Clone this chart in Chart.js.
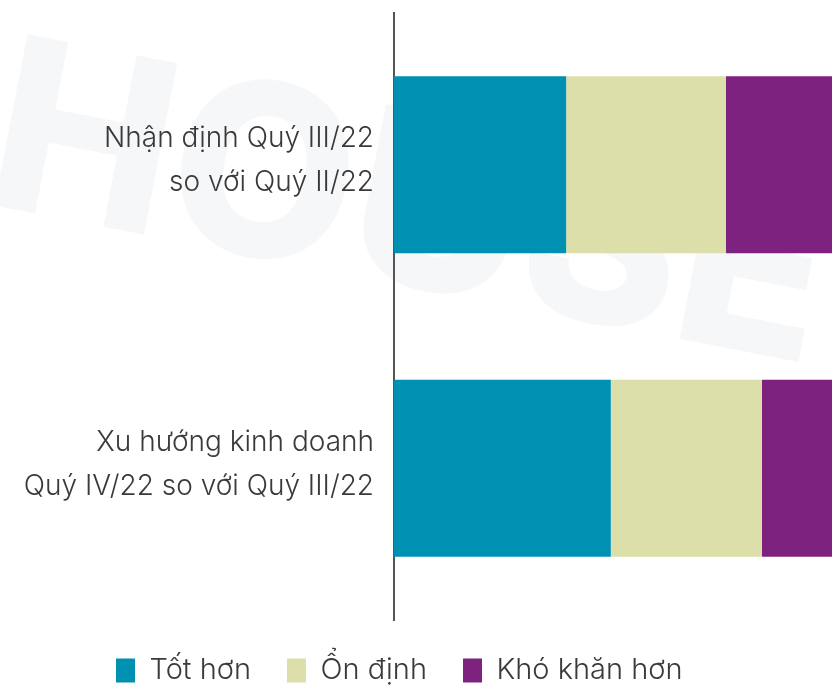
<!DOCTYPE html>
<html>
<head>
<meta charset="utf-8">
<script src="https://cdn.jsdelivr.net/npm/chart.js@4.4.0/dist/chart.umd.min.js"></script>
<style>
  html, body { margin: 0; padding: 0; background: #fff; }
  #wrap { width: 832px; height: 687px; position: relative; }
</style>
</head>
<body>
<div id="wrap"><canvas id="chart"></canvas></div>
<script>
// ===== Data =====
const categories = [
    ['Nhận định Quý III/22', 'so với Quý II/22'],
    ['Xu hướng kinh doanh', 'Quý IV/22 so với Quý III/22']
];
const seriesNames = ['Tốt hơn', 'Ổn định', 'Khó khăn hơn'];
const totHon = [39.3, 49.5];
const onDinh = [36.5, 34.5];
const khoKhanHon = [24.2, 16.0];
const seriesColors = ['#0090b2', '#dcdfa9', '#7e2280'];

// faint watermark behind the plot
const watermark = {
    id: 'watermark',
    beforeDraw(chart) {
        const c = chart.ctx;
        c.save();
        c.translate(-19, 203);
        c.rotate(11 * Math.PI / 180);
        c.font = '800 240px Inter';
        c.textAlign = 'left';
        c.textBaseline = 'alphabetic';
        c.fillStyle = '#f6f7f9';
        c.fillText('HOUSE', 0, 0);
        c.restore();
    }
};

// nudge the legend to where it sits in the picture
const legendShift = {
    id: 'legendShift',
    afterLayout(chart) {
        const lg = chart.legend;
        lg.left += 80; lg.right += 80;
    }
};

const ctx = document.getElementById('chart').getContext('2d');
const chart = new Chart(ctx, {
    type: 'bar',
    data: {
        labels: categories,
        datasets: [
            { label: seriesNames[0], data: totHon, backgroundColor: seriesColors[0] },
            { label: seriesNames[1], data: onDinh, backgroundColor: seriesColors[1] },
            { label: seriesNames[2], data: khoKhanHon, backgroundColor: seriesColors[2] }
        ]
    },
    options: {
        indexAxis: 'y',
        responsive: true,
        maintainAspectRatio: false,
        animation: false,
        datasets: { bar: { categoryPercentage: 1, barPercentage: 0.584, borderWidth: 0 } },
        layout: { padding: { top: 13, right: 0, bottom: -8, left: 0 } },
        scales: {
            x: { stacked: true, min: 0, max: 100, display: false },
            y: {
                stacked: true,
                grid: { display: false, drawTicks: false },
                border: { display: true, color: '#555', width: 2 },
                ticks: {
                    color: '#3a3a3a',
                    padding: 20,
                    labelOffset: -4,
                    font: { family: 'Inter', size: 28, weight: 300, lineHeight: 1.57 }
                },
                afterFit(scale) {
                    scale.width = 394;
                    scale.paddingTop = 0;
                    scale.paddingBottom = 0;
                }
            }
        },
        plugins: {
            legend: {
                position: 'bottom',
                align: 'start',
                labels: {
                    boxWidth: 19,
                    boxHeight: 24,
                    padding: 36,
                    color: '#3a3a3a',
                    font: { family: 'Inter', size: 29, weight: 300 }
                }
            },
            tooltip: { enabled: false }
        }
    },
    plugins: [watermark, legendShift]
});
</script>
</body>
</html>
